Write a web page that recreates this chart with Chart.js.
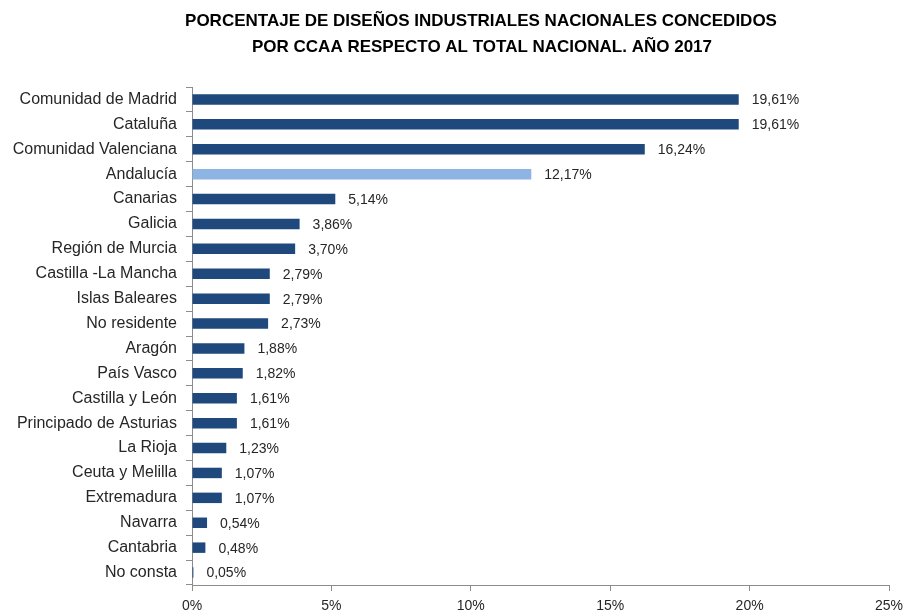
<!DOCTYPE html>
<html lang="es">
<head>
<meta charset="utf-8">
<title>Diseños industriales por CCAA 2017</title>
<script src="https://cdn.jsdelivr.net/npm/chart.js@4.4.1/dist/chart.umd.min.js"></script>
<style>
  html, body { margin: 0; padding: 0; background: #ffffff; }
  #contenedor { width: 909px; height: 614px; }
</style>
</head>
<body>
<div id="contenedor"><canvas id="graficoCCAA" width="909" height="614"></canvas></div>
<script>
const titulo = [
  "PORCENTAJE DE DISEÑOS INDUSTRIALES NACIONALES CONCEDIDOS",
  "POR CCAA RESPECTO AL TOTAL NACIONAL. AÑO 2017"
];

const comunidades = [
  "Comunidad de Madrid", "Cataluña", "Comunidad Valenciana", "Andalucía",
  "Canarias", "Galicia", "Región de Murcia", "Castilla -La Mancha",
  "Islas Baleares", "No residente", "Aragón", "País Vasco",
  "Castilla y León", "Principado de Asturias", "La Rioja", "Ceuta y Melilla",
  "Extremadura", "Navarra", "Cantabria", "No consta"
];

const porcentajes = [
  19.61, 19.61, 16.24, 12.17,
  5.14, 3.86, 3.70, 2.79,
  2.79, 2.73, 1.88, 1.82,
  1.61, 1.61, 1.23, 1.07,
  1.07, 0.54, 0.48, 0.05
];

// Andalucía va resaltada en azul claro
const destacada = "Andalucía";

const AZUL = "#1f497d";
const AZUL_CLARO = "#8db4e2";
const FUENTE = "'Liberation Sans', Arial, sans-serif";

function formatoPorcentaje(valor) {
  return valor.toFixed(2).replace(".", ",") + "%";
}

const pluginTitulo = {
  id: "tituloDosLineas",
  afterDraw(chart) {
    const ctx = chart.ctx;
    ctx.save();
    ctx.fillStyle = "#000000";
    ctx.font = "bold 17px " + FUENTE;
    ctx.textAlign = "center";
    ctx.textBaseline = "middle";
    ctx.fillText(titulo[0], 481, 21);
    ctx.fillText(titulo[1], 482, 47);
    ctx.restore();
  }
};

const pluginEtiquetas = {
  id: "etiquetasValor",
  afterDatasetsDraw(chart) {
    const ctx = chart.ctx;
    const meta = chart.getDatasetMeta(0);
    ctx.save();
    ctx.fillStyle = "#262626";
    ctx.font = "14px " + FUENTE;
    ctx.textAlign = "left";
    ctx.textBaseline = "middle";
    meta.data.forEach((barra, i) => {
      ctx.fillText(formatoPorcentaje(porcentajes[i]), barra.x + 13, barra.y + 1);
    });
    ctx.restore();
  }
};

const ctx = document.getElementById("graficoCCAA").getContext("2d");

new Chart(ctx, {
  type: "bar",
  data: {
    labels: comunidades,
    datasets: [
      {
        data: porcentajes,
        backgroundColor: comunidades.map(c => c === destacada ? AZUL_CLARO : AZUL),
        barPercentage: 0.42,
        categoryPercentage: 1.0
      }
    ]
  },
  options: {
    indexAxis: "y",
    responsive: false,
    animation: false,
    layout: {
      padding: { top: 87, right: 20, bottom: 0, left: 0 }
    },
    plugins: {
      legend: { display: false },
      tooltip: { enabled: false },
      title: { display: false }
    },
    scales: {
      x: {
        min: 0,
        max: 25,
        ticks: {
          stepSize: 5,
          color: "#262626",
          font: { family: FUENTE, size: 14 },
          padding: 7,
          maxRotation: 0,
          callback: v => v + "%"
        },
        grid: {
          display: true,
          drawOnChartArea: false,
          drawTicks: true,
          tickLength: 6,
          color: "#8c8c8c"
        },
        border: { display: true, color: "#8c8c8c", width: 1 },
        afterFit(scale) {
          scale.height = 29;
          // el margen derecho ya deja sitio a "25%"
          scale.paddingRight = 0;
        }
      },
      y: {
        offset: true,
        ticks: {
          color: "#262626",
          font: { family: FUENTE, size: 16 },
          padding: 9,
          autoSkip: false
        },
        grid: {
          display: true,
          offset: true,
          drawOnChartArea: false,
          drawTicks: true,
          tickLength: 6,
          color: "#8c8c8c"
        },
        border: { display: true, color: "#8c8c8c", width: 1 },
        afterFit(scale) {
          scale.width = 192;
        }
      }
    }
  },
  plugins: [pluginTitulo, pluginEtiquetas]
});
</script>
</body>
</html>
